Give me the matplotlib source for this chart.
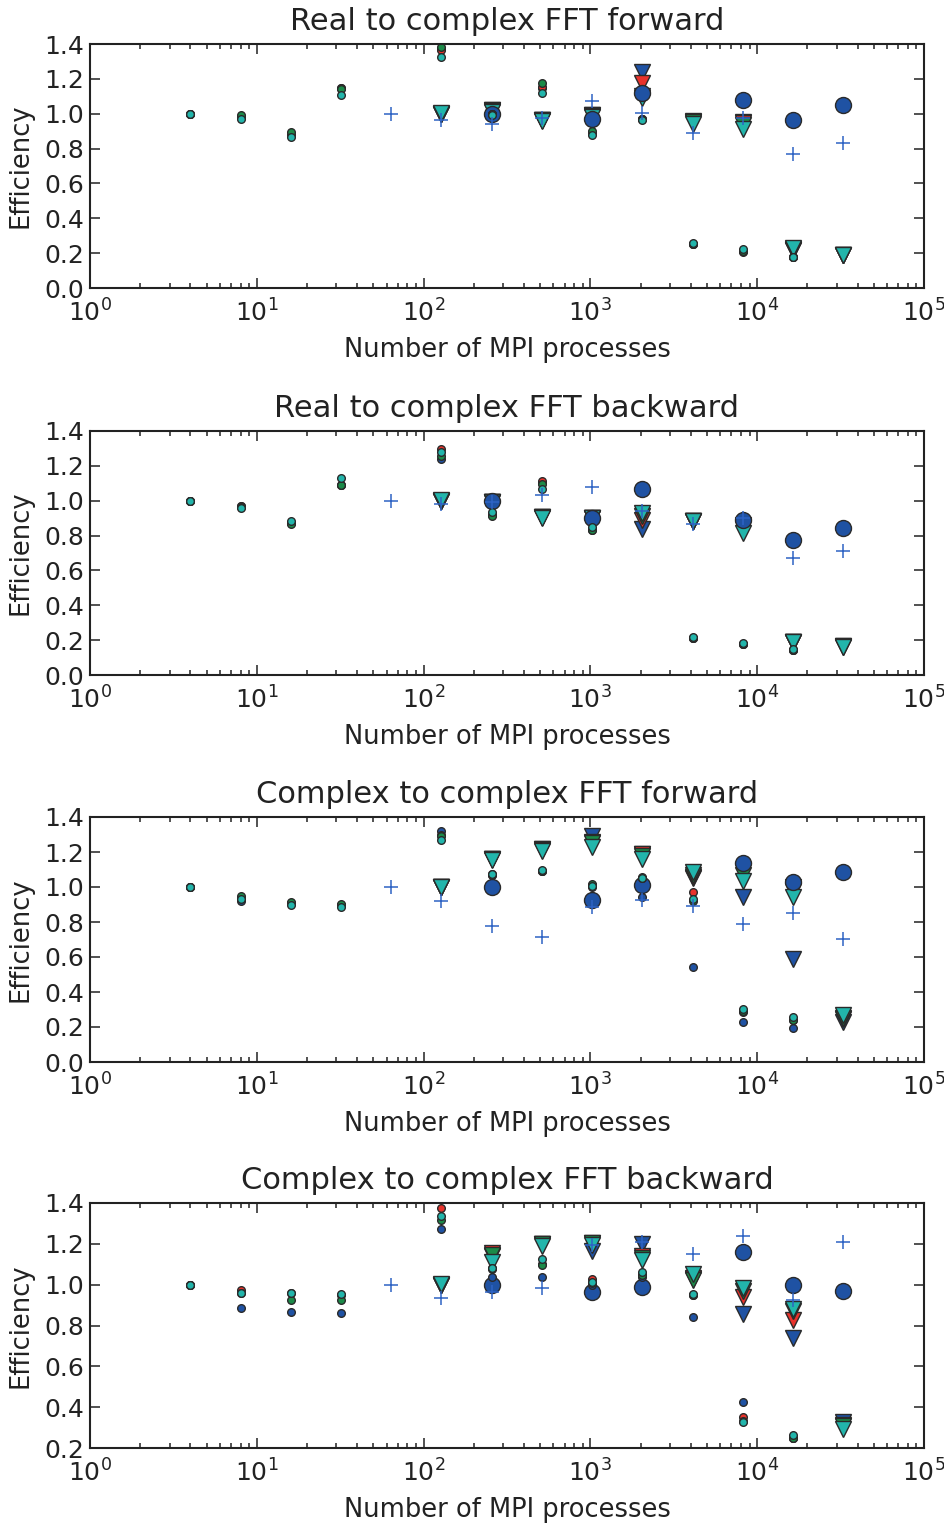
import numpy as np
import matplotlib
matplotlib.use("Agg")
import matplotlib.pyplot as plt

plt.rcParams['font.family'] = ['DejaVu Sans']
plt.rcParams['mathtext.fontset'] = 'dejavusans'

nan = np.nan
procs = [4, 8, 16, 32, 64, 128, 256, 512, 1024, 2048, 4096, 8192, 16384, 32768]

titles = ["Real to complex FFT forward", "Real to complex FFT backward",
          "Complex to complex FFT forward", "Complex to complex FFT backward"]

# ---------------- Panel 1: R2C forward ----------------
p1_small_blue  = [1.00, 0.98, 0.88, 1.15, nan, 1.37, 1.00, 1.15, 0.89, 0.97, 0.25, 0.21, 0.18, nan]
p1_small_red   = [1.00, 0.98, 0.88, 1.15, nan, 1.365, 1.00, 1.155, 0.89, 0.97, 0.25, 0.208, 0.18, nan]
p1_small_green = [1.00, 0.99, 0.895, 1.14, nan, 1.38, 1.00, 1.178, 0.90, 0.97, 0.255, 0.215, 0.18, nan]
p1_small_teal  = [1.00, 0.97, 0.864, 1.11, nan, 1.327, 0.99, 1.12, 0.876, 0.965, 0.256, 0.224, 0.176, nan]
p1_tri_blue  = [nan, nan, nan, nan, nan, 1.00, 1.02, 0.965, 0.99, 1.242, 0.96, 0.95, 0.22, 0.19]
p1_tri_red   = [nan, nan, nan, nan, nan, 1.00, 1.022, 0.965, 0.99, 1.179, 0.955, 0.945, 0.22, 0.19]
p1_tri_green = [nan, nan, nan, nan, nan, 1.00, 1.015, 0.962, 0.985, 1.10, 0.95, 0.935, 0.222, 0.19]
p1_tri_teal  = [nan, nan, nan, nan, nan, 1.003, 1.01, 0.96, 0.98, 1.09, 0.94, 0.91, 0.228, 0.189]
p1_big  = [nan, nan, nan, nan, nan, nan, 1.00, nan, 0.968, 1.12, nan, 1.078, 0.964, 1.05]
p1_plus = [nan, nan, nan, nan, 1.00, 0.964, 0.94, 0.977, 1.071, 1.006, 0.887, 0.975, 0.769, 0.83]

# ---------------- Panel 2: R2C backward ----------------
p2_small_blue  = [1.00, 0.97, 0.87, 1.09, nan, 1.239, 0.92, 1.10, 0.83, nan, 0.21, 0.18, 0.145, nan]
p2_small_red   = [1.00, 0.97, 0.87, 1.09, nan, 1.295, 0.925, 1.113, 0.84, nan, 0.215, 0.18, 0.145, nan]
p2_small_green = [1.00, 0.965, 0.865, 1.09, nan, 1.258, 0.914, 1.094, 0.83, nan, 0.215, 0.18, 0.145, nan]
p2_small_teal  = [1.00, 0.96, 0.884, 1.132, nan, 1.281, 0.937, 1.069, 0.849, nan, 0.219, 0.181, 0.15, nan]
p2_tri_blue  = [nan, nan, nan, nan, nan, 1.00, 0.99, 0.908, 0.90, 0.835, 0.885, 0.86, 0.19, 0.165]
p2_tri_red   = [nan, nan, nan, nan, nan, 1.00, 0.99, 0.908, 0.90, 0.887, 0.885, 0.855, 0.19, 0.165]
p2_tri_green = [nan, nan, nan, nan, nan, 1.00, 0.99, 0.905, 0.90, 0.91, 0.885, 0.85, 0.19, 0.163]
p2_tri_teal  = [nan, nan, nan, nan, nan, 1.003, 0.99, 0.902, 0.90, 0.927, 0.884, 0.816, 0.188, 0.16]
p2_big  = [nan, nan, nan, nan, nan, nan, 1.00, nan, 0.903, 1.069, nan, 0.888, 0.773, 0.842]
p2_plus = [nan, nan, nan, nan, 1.00, 0.98, 0.99, 1.033, 1.078, 0.94, 0.865, 0.90, 0.674, 0.712]

# ---------------- Panel 3: C2C forward ----------------
p3_small_blue  = [1.00, 0.918, 0.91, 0.90, nan, 1.318, 1.07, 1.09, 1.00, 0.945, 0.541, 0.23, 0.194, nan]
p3_small_red   = [1.00, 0.94, 0.91, 0.90, nan, 1.30, 1.07, 1.09, 1.01, 1.05, 0.969, 0.285, 0.24, nan]
p3_small_green = [1.00, 0.95, 0.912, 0.903, nan, 1.29, 1.075, 1.09, 1.02, 1.059, 0.92, 0.29, 0.24, nan]
p3_small_teal  = [1.00, 0.931, 0.895, 0.887, nan, 1.269, 1.074, 1.097, 1.007, 1.05, 0.931, 0.303, 0.255, nan]
p3_tri_blue  = [nan, nan, nan, nan, nan, 1.00, 1.16, 1.22, 1.294, 1.19, 1.05, 0.942, 0.589, 0.23]
p3_tri_red   = [nan, nan, nan, nan, nan, 1.00, 1.16, 1.22, 1.256, 1.186, 1.06, 1.09, 0.98, 0.245]
p3_tri_green = [nan, nan, nan, nan, nan, 1.00, 1.16, 1.214, 1.25, 1.18, 1.07, 1.07, 1.00, 0.25]
p3_tri_teal  = [nan, nan, nan, nan, nan, 1.00, 1.155, 1.206, 1.226, 1.159, 1.085, 1.036, 0.945, 0.271]
p3_big  = [nan, nan, nan, nan, nan, nan, 1.00, nan, 0.926, 1.013, nan, 1.135, 1.026, 1.087]
p3_plus = [nan, nan, nan, nan, 1.00, 0.922, 0.775, 0.716, 0.883, 0.926, 0.893, 0.788, 0.849, 0.703]

# ---------------- Panel 4: C2C backward ----------------
p4_small_blue  = [1.00, 0.886, 0.866, 0.861, nan, 1.273, 1.04, 1.039, 1.00, 1.04, 0.84, 0.423, 0.25, nan]
p4_small_red   = [1.00, 0.974, 0.96, 0.95, nan, 1.377, 1.08, 1.10, 1.027, 1.05, 0.95, 0.354, 0.25, nan]
p4_small_green = [1.00, 0.96, 0.923, 0.926, nan, 1.318, 1.076, 1.095, 1.01, 1.047, 0.95, 0.33, 0.25, nan]
p4_small_teal  = [1.00, 0.958, 0.958, 0.953, nan, 1.334, 1.08, 1.124, 1.012, 1.063, 0.953, 0.325, 0.264, nan]
p4_tri_blue  = [nan, nan, nan, nan, nan, 1.00, 1.14, 1.20, 1.167, 1.198, 1.03, 0.854, 0.741, 0.327]
p4_tri_red   = [nan, nan, nan, nan, nan, 1.00, 1.155, 1.20, 1.205, 1.14, 1.035, 0.938, 0.828, 0.314]
p4_tri_green = [nan, nan, nan, nan, nan, 1.00, 1.145, 1.20, 1.206, 1.133, 1.022, 0.97, 0.87, 0.31]
p4_tri_teal  = [nan, nan, nan, nan, nan, 1.002, 1.11, 1.188, 1.195, 1.119, 1.051, 0.983, 0.881, 0.293]
p4_big  = [nan, nan, nan, nan, nan, nan, 1.00, nan, 0.966, 0.99, nan, 1.16, 0.998, 0.971]
p4_plus = [nan, nan, nan, nan, 1.00, 0.934, 0.966, 0.982, 1.192, 1.21, 1.152, 1.237, 0.926, 1.211]

panels = [
    (p1_small_blue, p1_small_red, p1_small_green, p1_small_teal,
     p1_tri_blue, p1_tri_red, p1_tri_green, p1_tri_teal, p1_big, p1_plus),
    (p2_small_blue, p2_small_red, p2_small_green, p2_small_teal,
     p2_tri_blue, p2_tri_red, p2_tri_green, p2_tri_teal, p2_big, p2_plus),
    (p3_small_blue, p3_small_red, p3_small_green, p3_small_teal,
     p3_tri_blue, p3_tri_red, p3_tri_green, p3_tri_teal, p3_big, p3_plus),
    (p4_small_blue, p4_small_red, p4_small_green, p4_small_teal,
     p4_tri_blue, p4_tri_red, p4_tri_green, p4_tri_teal, p4_big, p4_plus),
]
ylims = [(0.0, 1.4), (0.0, 1.4), (0.0, 1.4), (0.2, 1.4)]

BLUE = '#1f52a3'
RED = '#e8322b'
GREEN = '#1b8a48'
TEAL = '#22b5ab'
PLUS = '#2e63c4'
EDGE = '#2a2a2a'
TXT = '#222222'

fig = plt.figure(figsize=(9.45, 15.26), dpi=100)
left, width = 90 / 945, (924 - 90) / 945
tops = [44, 431, 817, 1203]
bottoms = [288, 675, 1062, 1448]

for i, data in enumerate(panels):
    t, b = tops[i], bottoms[i]
    ax = fig.add_axes([left, 1 - b / 1526, width, (b - t) / 1526])
    sb, sr, sg, st, tb, tr, tg, tt, big, plus = data
    for yv, c in zip([tb, tr, tg, tt], [BLUE, RED, GREEN, TEAL]):
        ax.plot(procs, yv, linestyle='none', marker='v', markersize=12,
                markerfacecolor=c, markeredgecolor=EDGE, markeredgewidth=1.0)
    ax.plot(procs, big, linestyle='none', marker='o', markersize=11.5,
            markerfacecolor=BLUE, markeredgecolor=EDGE, markeredgewidth=1.0)
    for yv, c in zip([sb, sr, sg, st], [BLUE, RED, GREEN, TEAL]):
        ax.plot(procs, yv, linestyle='none', marker='o', markersize=5.5,
                markerfacecolor=c, markeredgecolor=EDGE, markeredgewidth=1.0)
    ax.plot(procs, plus, linestyle='none', marker='+', markersize=10,
            markeredgewidth=1.1, color=PLUS)

    ax.set_xscale('log')
    ax.set_xlim(1, 1e5)
    ax.set_ylim(*ylims[i])
    lo = ylims[i][0]
    ax.set_yticks(np.round(np.arange(lo, 1.41, 0.2), 1))
    ax.set_yticklabels([f"{v:.1f}" for v in np.arange(lo, 1.41, 0.2)])
    for s in ax.spines.values():
        s.set_linewidth(1.5)
        s.set_color(TXT)
    ax.tick_params(which='both', direction='in', top=True, right=True,
                   colors=TXT, labelsize=18, width=1.1)
    ax.tick_params(which='major', length=7)
    ax.tick_params(which='minor', length=3.5)
    ax.tick_params(axis='x', which='major', pad=8)
    ax.tick_params(axis='y', which='major', pad=4)
    ax.set_title(titles[i], fontsize=22, color=TXT, pad=10)
    ax.set_xlabel("Number of MPI processes", fontsize=18.5, color=TXT, labelpad=8)
    ax.set_ylabel("Efficiency", fontsize=18.5, color=TXT, labelpad=8)

fig.savefig("out.png", dpi=100)
